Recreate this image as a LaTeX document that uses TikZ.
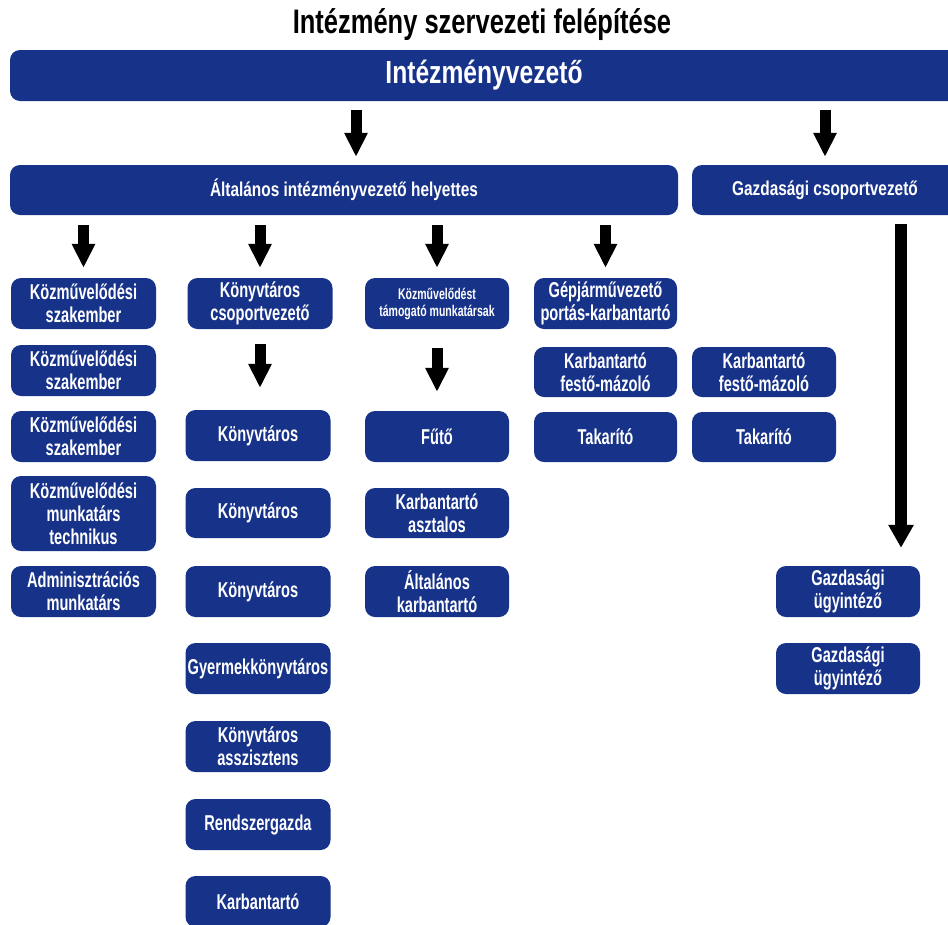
\documentclass[tikz,border=0pt]{standalone}
\usepackage{fontspec}
\setmainfont{Liberation Sans}
\newfontfamily\titlecond{Liberation Sans}[FakeStretch=0.75]
\newfontfamily\bigcond{Liberation Sans}[FakeStretch=0.77]
\newfontfamily\smallcond{Liberation Sans}[FakeStretch=0.68]
\usetikzlibrary{arrows.meta}
\definecolor{orgblue}{RGB}{23,50,137}

\begin{document}
\begin{tikzpicture}[x=1pt,y=-1pt,
    box/.style={fill=orgblue,text=white,rounded corners=10pt,align=center,inner sep=0pt,
        minimum width=145pt,minimum height=51pt,font=\smallcond\bfseries\fontsize{21.5}{23}\selectfont},
    arr/.style={line width=11pt,-{Triangle[width=22pt,length=24pt]}},
    bigarr/.style={line width=12pt,-{Triangle[width=24pt,length=23pt]}}]
    \fill[white] (0,0) rectangle (948,924);
    \useasboundingbox (0,0) rectangle (948,924);

    % title and top levels
    \node[anchor=base,font=\titlecond\bfseries\fontsize{34}{36}\selectfont] (title) at (482,33) {Intézmény szervezeti felépítése};
    \node[box,minimum width=948pt,font=\bigcond\bfseries\fontsize{32}{34}\selectfont] (head) at (484,75.5) {Intézményvezető};
    \node[box,minimum width=668pt,minimum height=50pt,font=\bigcond\bfseries\fontsize{20}{22}\selectfont] (helyettes) at (344,190) {Általános intézményvezető helyettes};
    \node[box,minimum width=266pt,minimum height=50pt,font=\bigcond\bfseries\fontsize{20}{22}\selectfont] (gazd) at (825,190) {Gazdasági csoportvezető};

    % column 1
    \node[box] (k1) at (83.5,303.5) {Közművelődési\\szakember};
    \node[box] (k2) at (83.5,370.5) {Közművelődési\\szakember};
    \node[box] (k3) at (83.5,436.5) {Közművelődési\\szakember};
    \node[box,minimum height=75pt] (k4) at (83.5,513.5) {Közművelődési\\munkatárs\\technikus};
    \node[box] (k5) at (83.5,591.5) {Adminisztrációs\\munkatárs};

    % column 2
    \node[box] (csop) at (260,303.5) {Könyvtáros\\csoportvezető};
    \node[box] (kv1) at (258,435.5) {Könyvtáros};
    \node[box,minimum height=50pt] (kv2) at (258,513) {Könyvtáros};
    \node[box] (kv3) at (258,591.5) {Könyvtáros};
    \node[box] (gyk) at (258,668.5) {Gyermekkönyvtáros};
    \node[box] (asz) at (258,746.5) {Könyvtáros\\asszisztens};
    \node[box] (rend) at (258,824.5) {Rendszergazda};
    \node[box] (karb) at (258,901.5) {Karbantartó};

    % column 3
    \node[box,minimum width=144pt,font=\smallcond\bfseries\fontsize{15.5}{17}\selectfont] (tam) at (437,303.5) {Közművelődést\\támogató munkatársak};
    \node[box,minimum width=144pt] (futo) at (437,436.5) {Fűtő};
    \node[box,minimum width=144pt,minimum height=50pt] (asztalos) at (437,513) {Karbantartó\\asztalos};
    \node[box,minimum width=144pt] (altk) at (437,591.5) {Általános\\karbantartó};

    % column 4 and 5
    \node[box,minimum width=143pt] (gep) at (605.5,303.5) {Gépjárművezető\\portás-karbantartó};
    \node[box,minimum width=143pt,minimum height=50pt] (fest1) at (605.5,372) {Karbantartó\\festő-mázoló};
    \node[box,minimum width=143pt,minimum height=50pt] (tak1) at (605.5,437) {Takarító};
    \node[box,minimum width=144pt,minimum height=50pt] (fest2) at (764,372) {Karbantartó\\festő-mázoló};
    \node[box,minimum width=144pt,minimum height=50pt] (tak2) at (764,437) {Takarító};

    % gazdasagi
    \node[box,minimum width=144pt] (ugy1) at (848,591.5) {Gazdasági\\ügyintéző};
    \node[box,minimum width=144pt] (ugy2) at (848,668.5) {Gazdasági\\ügyintéző};

    % arrows
    \coordinate (a1) at ([xshift=12pt]helyettes.north);
    \draw[arr,shorten <=9pt,shorten >=8pt] (head.south -| a1) -- (a1);
    \draw[arr,shorten <=9pt,shorten >=8pt] (head.south -| gazd.north) -- (gazd.north);
    \foreach \n in {k1,csop,tam,gep}
        \draw[arr,shorten <=10pt,shorten >=10pt] (helyettes.south -| \n.north) -- (\n.north);
    \draw[arr,shorten <=15pt,shorten >=22pt] (csop.south) -- (csop.south |- kv1.north);
    \draw[arr,shorten <=19pt,shorten >=19pt] (tam.south) -- (futo.north);
    \coordinate (g1) at ([xshift=53pt]ugy1.north);
    \draw[bigarr,shorten <=9pt,shorten >=18pt] (gazd.south -| g1) -- (g1);
\end{tikzpicture}
\end{document}
